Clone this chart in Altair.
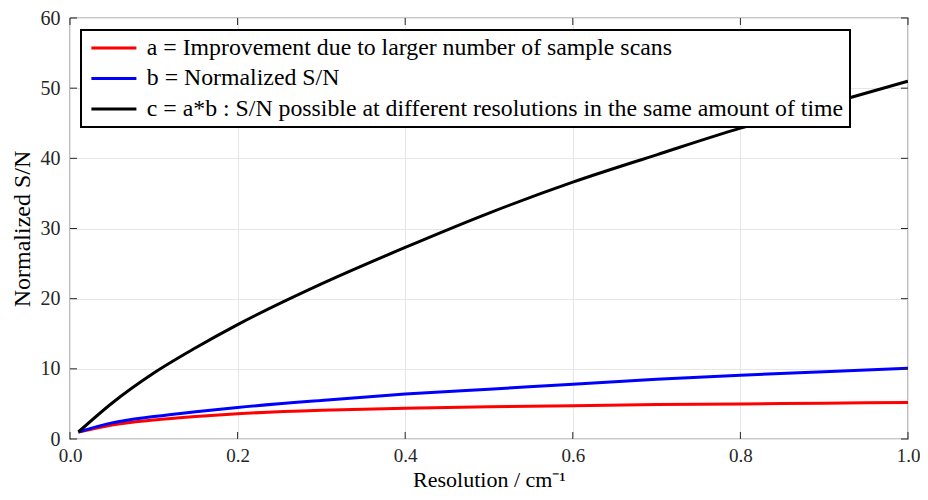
import altair as alt
import pandas as pd

# Data
resolution = [0.01, 0.05, 0.1, 0.15, 0.2, 0.3, 0.4, 0.5, 0.6, 0.7, 0.8, 0.9, 1.0]
a_improvement = [1.0, 2.0, 2.7, 3.2, 3.6, 4.1, 4.4, 4.6, 4.75, 4.9, 5.0, 5.1, 5.2]
b_normalized = [1.0, 2.3, 3.2, 3.9, 4.5, 5.5, 6.4, 7.1, 7.8, 8.5, 9.1, 9.6, 10.1]
c_product = [1.0, 5.1, 9.4, 13.0, 16.3, 22.1, 27.3, 32.2, 36.6, 40.5, 44.3, 47.6, 51.0]

labels = [
    "a = Improvement due to larger number of sample scans",
    "b = Normalized S/N",
    "c = a*b : S/N possible at different resolutions in the same amount of time",
]
colors = ["#ff0000", "#0000ff", "#000000"]

x_ticks = [0.0, 0.2, 0.4, 0.6, 0.8, 1.0]
y_ticks = [0, 10, 20, 30, 40, 50, 60]

rows = []
for lab, ser in zip(labels, [a_improvement, b_normalized, c_product]):
    for xv, yv in zip(resolution, ser):
        rows.append({"x": xv, "y": yv, "series": lab})
df = pd.DataFrame(rows)

W, H = 838, 421
FONT = "Liberation Serif"

xscale = alt.Scale(domain=[0, 1], nice=False, zero=False)
yscale = alt.Scale(domain=[0, 60], nice=False)

lines = alt.Chart(df).mark_line(strokeWidth=3, interpolate="monotone", clip=True).encode(
    x=alt.X("x:Q", scale=xscale,
            axis=alt.Axis(title="Resolution / cm⁻¹", values=x_ticks, format=".1f",
                          grid=True, ticks=False, domain=False, labelPadding=7,
                          labelFontSize=19, labelFlush=False, titleBaseline="alphabetic",
                          titlePadding=21, titleFontSize=22)),
    y=alt.Y("y:Q", scale=yscale,
            axis=alt.Axis(title="Normalized S/N", values=y_ticks, format="d",
                          grid=True, ticks=False, domain=False, labelPadding=10,
                          labelFlush=False, titlePadding=6)),
    color=alt.Color("series:N", sort=labels,
                    scale=alt.Scale(domain=labels, range=colors),
                    legend=alt.Legend(title=None, orient="none", legendX=11, legendY=12)),
)

xt = pd.DataFrame({"t": x_ticks})
yt = pd.DataFrame({"t": y_ticks})
tick_col = "#262626"

bottom_ticks = alt.Chart(xt).mark_rule(color=tick_col, strokeWidth=1).encode(
    x=alt.X("t:Q", scale=xscale), y=alt.value(H), y2=alt.value(H - 7))
top_ticks = alt.Chart(xt).mark_rule(color=tick_col, strokeWidth=1).encode(
    x=alt.X("t:Q", scale=xscale), y=alt.value(0), y2=alt.value(7))
left_ticks = alt.Chart(yt).mark_rule(color=tick_col, strokeWidth=1).encode(
    y=alt.Y("t:Q", scale=yscale), x=alt.value(0), x2=alt.value(7))
right_ticks = alt.Chart(yt).mark_rule(color=tick_col, strokeWidth=1).encode(
    y=alt.Y("t:Q", scale=yscale), x=alt.value(W), x2=alt.value(W - 7))

chart = alt.layer(lines, bottom_ticks, top_ticks, left_ticks, right_ticks).properties(
    width=W, height=H,
    autosize=alt.AutoSizeParams(type="none"),
    padding={"left": 62, "top": 10, "right": 12, "bottom": 53},
).configure_view(
    stroke="#262626", strokeWidth=1.2
).configure_axis(
    labelFont=FONT, titleFont=FONT, labelFontSize=20, titleFontSize=24,
    labelColor="#262626", titleColor="#000000", titleFontWeight="normal",
    gridColor="#e6e6e6", gridWidth=1,
).configure_legend(
    labelFont=FONT, labelFontSize=23.8, labelColor="#000000", labelLimit=0,
    symbolType="M-3,0H3", symbolStrokeWidth=3, symbolSize=225,
    symbolOffset=15, labelOffset=21, rowPadding=5.5, padding=6,
    strokeColor="#000000", strokeWidth=2, fillColor="#ffffff",
)

chart.save("out.html", embed_options={"renderer": "svg", "actions": False})
